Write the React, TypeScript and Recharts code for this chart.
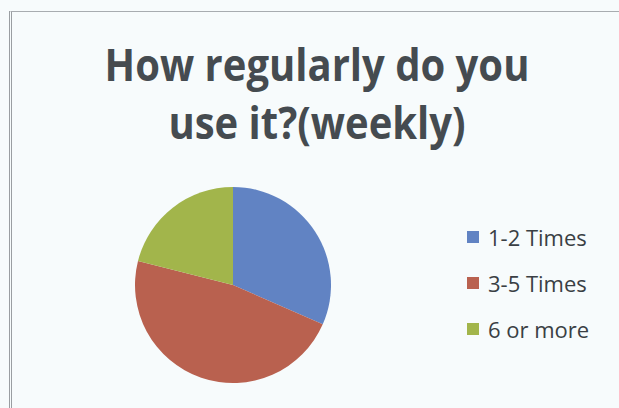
import { Cell, Legend, Pie, PieChart } from "recharts";

const categories = ["1-2 Times", "3-5 Times", "6 or more"];
const counts = [6, 9, 4];
const colors = ["#6183c3", "#b9614f", "#a2b54b"];
const titleLines = ["How regularly do you", "use it?(weekly)"];

const data = categories.map((name, i) => ({ name, value: counts[i] }));

function LegendBox() {
  return (
    <div style={{ display: "flex", flexDirection: "column", gap: 16 }}>
      {categories.map((name, i) => (
        <div key={name} style={{ display: "flex", alignItems: "center", height: 30 }}>
          <span
            style={{ width: 12, height: 12, background: colors[i], marginRight: 9, display: "inline-block" }}
          />
          <span style={{ fontSize: 22, color: "#3a3f44", fontFamily: "'Open Sans', sans-serif" }}>{name}</span>
        </div>
      ))}
    </div>
  );
}

export default function App() {
  return (
    <div
      style={{
        position: "fixed",
        left: 0,
        top: 0,
        width: 619,
        height: 408,
        background: "#f7fbfc",
        overflow: "hidden",
        fontFamily: "'Open Sans', sans-serif"
      }}
    >
      <div
        style={{
          position: "absolute",
          left: 9,
          top: 11,
          width: 640,
          height: 420,
          borderLeft: "3px double #9a9ea2",
          borderTop: "1px solid #a8acb0"
        }}
      />
      {titleLines.map((line, i) => (
        <div
          key={line}
          style={{
            position: "absolute",
            left: 0,
            top: 42 + i * 58,
            width: 634,
            textAlign: "center",
            fontSize: 40,
            fontWeight: 700,
            lineHeight: "40px",
            color: "#454b50",
            transform: "scaleY(1.12)",
            transformOrigin: "top",
            whiteSpace: "nowrap"
          }}
        >
          {line}
        </div>
      ))}
      <div style={{ position: "absolute", left: 0, top: 0 }}>
        <PieChart width={619} height={408} margin={{ top: 0, right: 0, bottom: 0, left: 0 }}>
          <Pie
            data={data}
            dataKey="value"
            nameKey="name"
            cx={233}
            cy={285}
            outerRadius={98}
            startAngle={90}
            endAngle={-270}
            stroke="none"
            isAnimationActive={false}
          >
            {data.map((d, i) => (
              <Cell key={d.name} fill={colors[i]} />
            ))}
          </Pie>
          <Legend
            layout="vertical"
            verticalAlign="top"
            align="right"
            wrapperStyle={{ left: 467, top: 222, width: 150 }}
            content={() => <LegendBox />}
          />
        </PieChart>
      </div>
    </div>
  );
}
